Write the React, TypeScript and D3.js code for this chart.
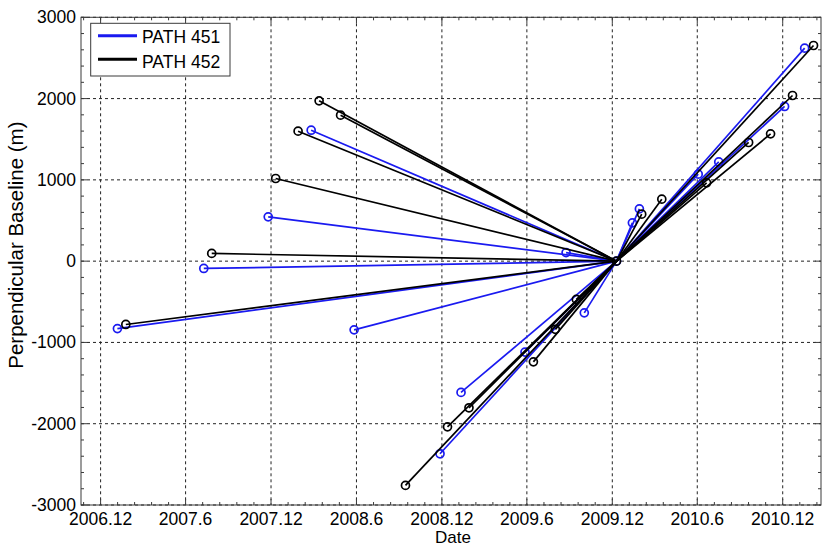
import React from 'react';
import * as d3 from 'd3';

// Acquisition dates (master) and perpendicular baselines for the two tracks
const masterDate = '2009-12-10';

const path451Dates = [
  '2007-01-06', '2007-07-10', '2007-11-25', '2008-02-25', '2008-05-27',
  '2008-11-27', '2009-01-11', '2009-05-28', '2009-08-24', '2009-10-02',
  '2010-01-13', '2010-01-28', '2010-06-03', '2010-07-17', '2010-12-05',
  '2011-01-17',
];
const path451Baselines = [
  -830, -90, 545, 1611, -845,
  -2370, -1615, -1119, 105, -636,
  471, 643, 1070, 1221, 1903,
  2620,
];

const path452Dates = [
  '2007-01-24', '2007-07-27', '2007-12-11', '2008-01-28', '2008-03-13',
  '2008-04-28', '2008-09-14', '2008-12-13', '2009-01-28', '2009-06-15',
  '2009-08-01', '2009-09-15', '2010-02-02', '2010-03-17', '2010-06-21',
  '2010-09-19', '2010-11-05', '2010-12-22', '2011-02-05',
];
const path452Baselines = [
  -779, 95, 1017, 1599, 1972,
  1796, -2759, -2038, -1804, -1239,
  -839, -471, 578, 763, 963,
  1460, 1566, 2038, 2653,
];

const xTickDates = [
  '2006-12-01', '2007-06-01', '2007-12-01', '2008-06-01', '2008-12-01',
  '2009-06-01', '2009-12-01', '2010-06-01', '2010-12-01',
];
const xTickLabels = [
  '2006.12', '2007.6', '2007.12', '2008.6', '2008.12',
  '2009.6', '2009.12', '2010.6', '2010.12',
];
const yTicks = [-3000, -2000, -1000, 0, 1000, 2000, 3000];
const yMinorStep = 200;

const seriesNames = ['PATH 451', 'PATH 452'];
const seriesColors = ['#1a1af0', '#000000'];

const W = 823;
const H = 547;
const plot = { left: 81, right: 821, top: 17.3, bottom: 505 };
const FONT = '"Liberation Sans", Arial, sans-serif';

const parse = d3.timeParse('%Y-%m-%d');

export default function App() {
  const x = d3
    .scaleTime()
    .domain([new Date(2006, 9, 20), new Date(2011, 1, 21)])
    .range([plot.left, plot.right]);
  const y = d3.scaleLinear().domain([-3000, 3000]).range([plot.bottom, plot.top]);

  const majorX = xTickDates.map((d) => x(parse(d) as Date));

  // five minor divisions per half-year interval, extended past both ends
  const minorX: number[] = [];
  for (let i = 0; i < majorX.length - 1; i++) {
    const step = (majorX[i + 1] - majorX[i]) / 5;
    for (let k = 1; k < 5; k++) minorX.push(majorX[i] + k * step);
  }
  const firstStep = (majorX[1] - majorX[0]) / 5;
  for (let p = majorX[0] - firstStep; p > plot.left + 0.5; p -= firstStep) minorX.push(p);
  const lastStep = (majorX[majorX.length - 1] - majorX[majorX.length - 2]) / 5;
  for (let p = majorX[majorX.length - 1] + lastStep; p < plot.right - 0.5; p += lastStep) minorX.push(p);

  const minorY = d3.range(-3000, 3000 + 1, yMinorStep).filter((v) => v % 1000 !== 0);

  const master = { x: x(parse(masterDate) as Date), y: y(0) };

  const series = [
    { dates: path451Dates, values: path451Baselines },
    { dates: path452Dates, values: path452Baselines },
  ].map((s, si) => ({
    color: seriesColors[si],
    name: seriesNames[si],
    pts: s.dates.map((d, i) => ({ x: x(parse(d) as Date), y: y(s.values[i]) })),
  }));

  const axisColor = '#3a3a3a';
  const gridDash = '3,3';

  return (
    <svg
      width={W}
      height={H}
      style={{ position: 'absolute', left: 0, top: 0, background: '#fff' }}
      fontFamily={FONT}
    >
      <rect x={0} y={0} width={W} height={H} fill="#fff" />

      {/* grid */}
      <g stroke="#222" strokeWidth={1} strokeDasharray={gridDash}>
        {majorX.map((px, i) => (
          <line key={'gx' + i} x1={px} x2={px} y1={plot.top} y2={plot.bottom} />
        ))}
        {yTicks.map((v) => (
          <line key={'gy' + v} x1={plot.left} x2={plot.right} y1={y(v)} y2={y(v)} />
        ))}
      </g>

      {/* ticks */}
      <g stroke={axisColor} strokeWidth={1}>
        {majorX.map((px, i) => (
          <g key={'tx' + i}>
            <line x1={px} x2={px} y1={plot.bottom} y2={plot.bottom - 6} />
            <line x1={px} x2={px} y1={plot.top} y2={plot.top + 6} />
          </g>
        ))}
        {minorX.map((px, i) => (
          <g key={'mx' + i}>
            <line x1={px} x2={px} y1={plot.bottom} y2={plot.bottom - 3} />
            <line x1={px} x2={px} y1={plot.top} y2={plot.top + 3} />
          </g>
        ))}
        {yTicks.map((v) => (
          <g key={'ty' + v}>
            <line x1={plot.left} x2={plot.left + 6} y1={y(v)} y2={y(v)} />
            <line x1={plot.right} x2={plot.right - 6} y1={y(v)} y2={y(v)} />
          </g>
        ))}
        {minorY.map((v) => (
          <g key={'my' + v}>
            <line x1={plot.left} x2={plot.left + 3} y1={y(v)} y2={y(v)} />
            <line x1={plot.right} x2={plot.right - 3} y1={y(v)} y2={y(v)} />
          </g>
        ))}
      </g>

      {/* baseline connections: every acquisition linked to the master */}
      {series.map((s, si) => (
        <g key={'s' + si} stroke={s.color} strokeWidth={1.7} fill="none">
          {s.pts.map((p, i) => (
            <line key={i} x1={master.x} y1={master.y} x2={p.x} y2={p.y} />
          ))}
          {s.pts.map((p, i) => (
            <circle key={'c' + i} cx={p.x} cy={p.y} r={4} />
          ))}
          <circle cx={master.x} cy={master.y} r={4} />
        </g>
      ))}

      {/* frame */}
      <rect
        x={plot.left}
        y={plot.top}
        width={plot.right - plot.left}
        height={plot.bottom - plot.top}
        fill="none"
        stroke={axisColor}
        strokeWidth={1}
      />

      {/* tick labels */}
      <g fontSize={17.5} fill="#000">
        {majorX.map((px, i) => (
          <text key={'lx' + i} x={px} y={525} textAnchor="middle">
            {xTickLabels[i]}
          </text>
        ))}
        {yTicks.map((v) => (
          <text key={'ly' + v} x={76} y={y(v) + 6} textAnchor="end">
            {v}
          </text>
        ))}
      </g>

      {/* axis titles */}
      <text x={(plot.left + plot.right) / 2 + 2} y={543} fontSize={17} textAnchor="middle">
        Date
      </text>
      <text
        transform={`translate(23,${(plot.top + plot.bottom) / 2 - 16}) rotate(-90)`}
        fontSize={20.5}
        textAnchor="middle"
      >
        Perpendicular Baseline (m)
      </text>

      {/* legend */}
      <g>
        <rect x={90.7} y={23.3} width={139.3} height={52.7} fill="#fff" stroke={axisColor} strokeWidth={1} />
        {series.map((s, si) => (
          <g key={'lg' + si}>
            <line x1={98} x2={137} y1={35.7 + si * 23.6} y2={35.7 + si * 23.6} stroke={s.color} strokeWidth={3} />
            <text x={142} y={43.3 + si * 25} fontSize={17.5}>
              {s.name}
            </text>
          </g>
        ))}
      </g>
    </svg>
  );
}
